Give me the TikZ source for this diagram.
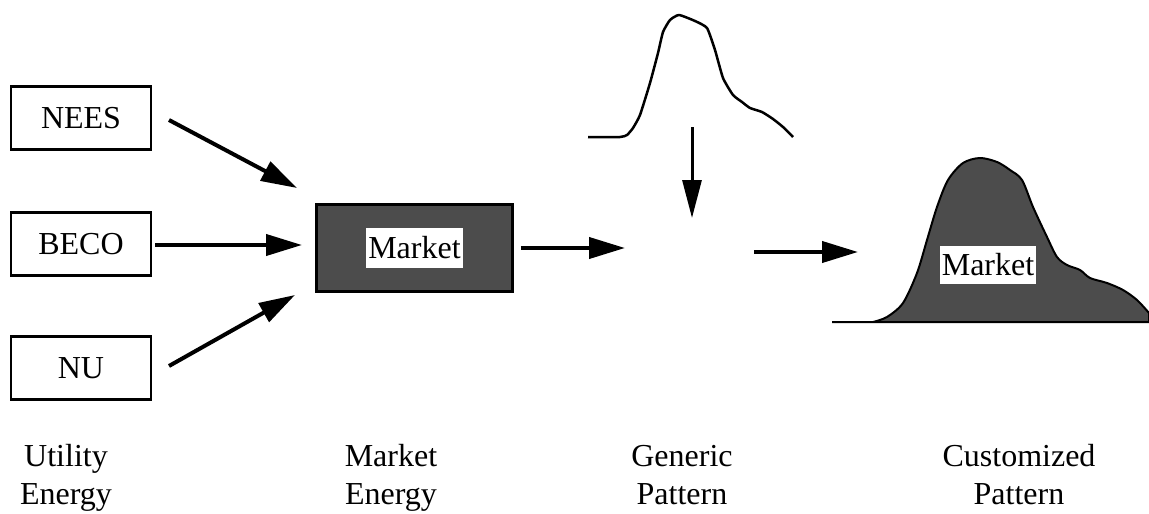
\documentclass[tikz,border=0pt]{standalone}
\usepackage{fontspec}
\setmainfont{Liberation Serif}
\usetikzlibrary{arrows.meta}
\definecolor{mkgray}{gray}{0.3}

\begin{document}
\begin{tikzpicture}[x=1pt, y=-1pt, font=\fontsize{32}{38}\selectfont,
    flow/.style={line width=4pt, -{Triangle[length=36pt,width=21pt]}}]
\useasboundingbox (0,0) rectangle (1149,514);
% market box
\node[draw, line width=2.5pt, fill=mkgray, minimum width=196pt, minimum height=87pt] (mkt) at (414.5,248) {};
\node[fill=white, inner xsep=2pt, inner ysep=0pt, minimum height=40pt] (mktlbl) at (mkt.center) {Market};
% utilities
\foreach \y/\name/\sx/\sy/\tx/\ty in {118/NEES/169/120/297/188, 244/BECO/155/245/302/245, 368/NU/169/366/295/295} {
    \node[draw, line width=2.5pt, minimum width=140pt, minimum height=63pt] (\name) at (81,\y) {\name};
    \coordinate (\name s) at (\sx,\sy);
    \coordinate (\name t) at (\tx,\ty);
    \draw[flow] (\name s) -- (\name t);
}
% generic pattern
\draw[line width=2.5pt, line join=round] plot[smooth, tension=0.3] coordinates {(588,137) (620,137) (627,135) (633,128) (640,115) (650,83) (658,53) (663,32) (670,20) (679,15) (695,21) (707,28) (715,50) (723,78) (733,95) (742,102) (750,108) (762,112) (773,119) (783,127) (793,137)};
\coordinate (genin) at (625,248);
\coordinate (gentop) at (692,127);
\coordinate (genbot) at (692,218);
\coordinate (genout) at (754,252);
\coordinate (cusin) at (858,252);
\draw[flow, shorten <=7pt] (mkt.east) -- (genin);
\draw[line width=3pt, -{Triangle[length=38pt,width=19pt]}] (gentop) -- (genbot);
\draw[flow] (genout) -- (cusin);
% customized pattern
\fill[mkgray, draw=black, line width=2pt, line join=round] (832,322) -- (873,322) plot[smooth, tension=0.5] coordinates {(873,322) (887,317) (903,303) (917,273) (927,240) (937,207) (948,180) (963,163) (980,158) (997,162) (1010,170) (1022,180) (1033,207) (1047,237) (1057,257) (1067,265) (1080,270) (1090,278) (1107,283) (1123,290) (1137,300) (1149,313)} -- (1149,322) -- cycle;
\node[fill=white, inner xsep=2pt, inner ysep=0pt, minimum height=38pt] (cuslbl) at (988,265) {Market};
% captions
\foreach \x/\top/\bot/\nm in {66/Utility/Energy/utl, 391/Market/Energy/mke, 682/Generic/Pattern/gen, 1019/Customized/Pattern/cus}
    \node[align=center, anchor=base, inner sep=0pt] (\nm) at (\x,504) {\top\\\bot};
\end{tikzpicture}
\end{document}
